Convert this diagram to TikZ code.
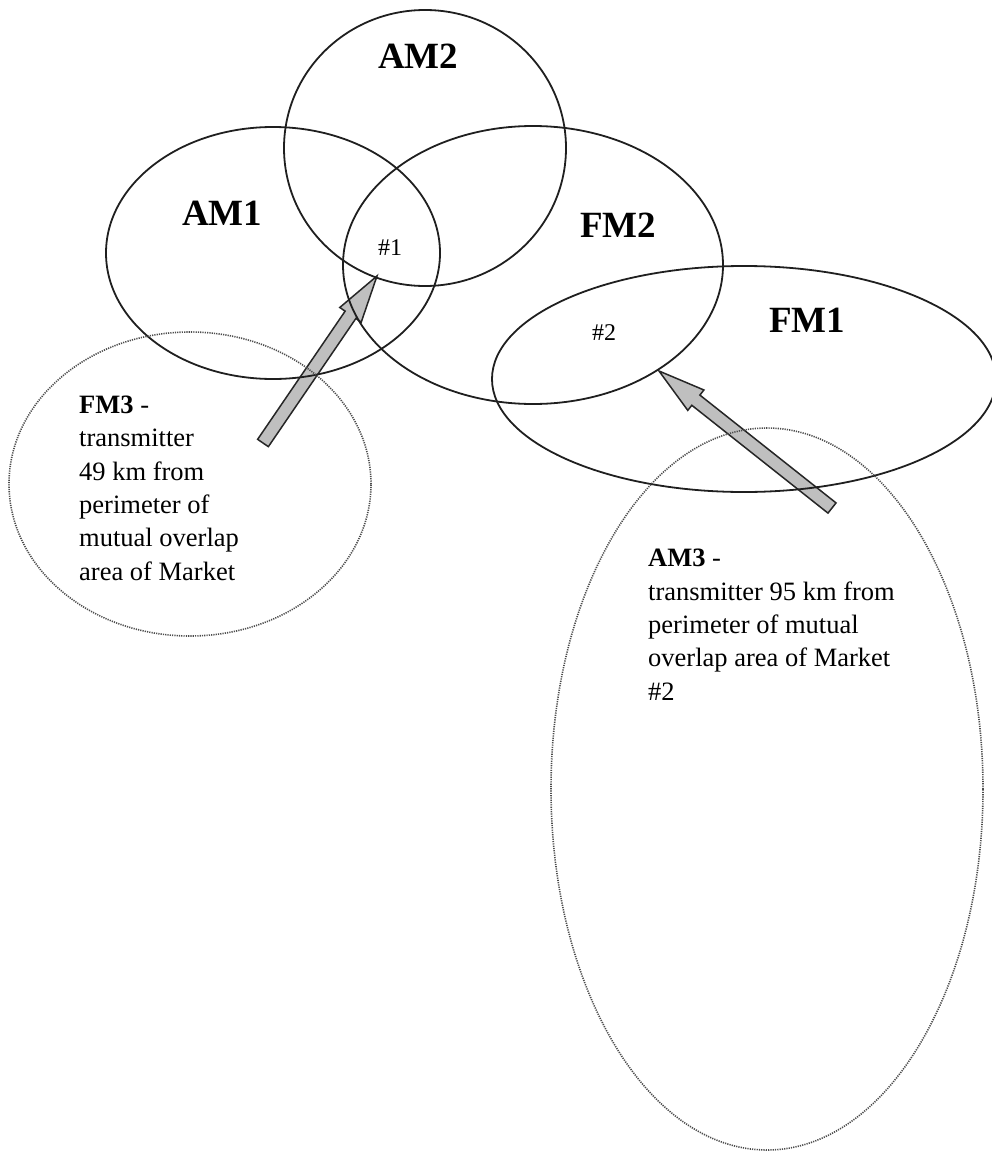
\documentclass[tikz,border=0pt]{standalone}
\usepackage{fontspec}
\setmainfont{Liberation Serif}
\usetikzlibrary{shapes.geometric,calc}
\tikzset{
  area/.style={ellipse, draw=black!88, line width=1.8pt, inner sep=0pt, outer sep=0pt},
  farea/.style={ellipse, draw=black!70, line width=1.6pt, dash pattern=on 1.2pt off 1.1pt, inner sep=0pt, outer sep=0pt},
  biglabel/.style={anchor=base west, inner sep=0pt, font=\fontsize{37}{44}\selectfont\bfseries},
  mktlabel/.style={anchor=base west, inner sep=0pt, font=\fontsize{24}{28}\selectfont},
  note/.style={anchor=base west, inner sep=0pt, align=left, font=\fontsize{26.5}{33.3}\selectfont},
  blockarrow/.style={draw=black!85, line width=1.5pt, fill=black!25, line join=miter}
}
\newcommand\myblockarrow[2]{%
  \coordinate (H) at ($(#2)!47pt!(#1)$);
  \draw[blockarrow]
    ($(#1)!6.5pt!90:(#2)$) -- ($(H)!6.5pt!90:(#2)$) -- ($(H)!13pt!90:(#2)$) --
    (#2) -- ($(H)!13pt!-90:(#2)$) -- ($(H)!6.5pt!-90:(#2)$) --
    ($(#1)!6.5pt!-90:(#2)$) -- cycle;
}
\begin{document}
\begin{tikzpicture}[x=1pt, y=-1pt]
\useasboundingbox (0,0) rectangle (992,1156);
% arrows (drawn first; circle outlines show over them)
\coordinate (tail1) at (263,443);
\coordinate (tip1) at (377,276);
\coordinate (tail2) at (832,508);
\coordinate (tip2) at (659,371);
\myblockarrow{tail1}{tip1}
\myblockarrow{tail2}{tip2}
% coverage areas
\node[area, minimum width=334pt, minimum height=252pt] (am1) at (273,253) {};
\node[area, minimum width=282pt, minimum height=276pt] (am2) at (425,148) {};
\node[area, minimum width=380pt, minimum height=278pt] (fm2) at (533,265) {};
\node[area, minimum width=504pt, minimum height=226pt] (fm1) at (744,379) {};
\node[farea, minimum width=362pt, minimum height=304pt] (fm3) at (190,484) {};
\node[farea, minimum width=432pt, minimum height=722pt] (am3) at (767,789) {};
% labels
\node[biglabel] (lam2) at (378,68) {AM2};
\node[biglabel] (lam1) at (182,225) {AM1};
\node[biglabel] (lfm2) at (580,237) {FM2};
\node[biglabel] (lfm1) at (769,332) {FM1};
\node[mktlabel] (m1) at (378,255) {\#1};
\node[mktlabel] (m2) at (592,340) {\#2};
% multi-line notes: base anchor = baseline of the last line
\node[note] (tfm3) at (79,580) {\textbf{FM3} -\\transmitter\\49 km from\\perimeter of\\mutual overlap\\area of Market};
\node[note] (tam3) at (648,700) {\textbf{AM3} -\\transmitter 95 km from\\perimeter of mutual\\overlap area of Market\\\#2};
\end{tikzpicture}
\end{document}
